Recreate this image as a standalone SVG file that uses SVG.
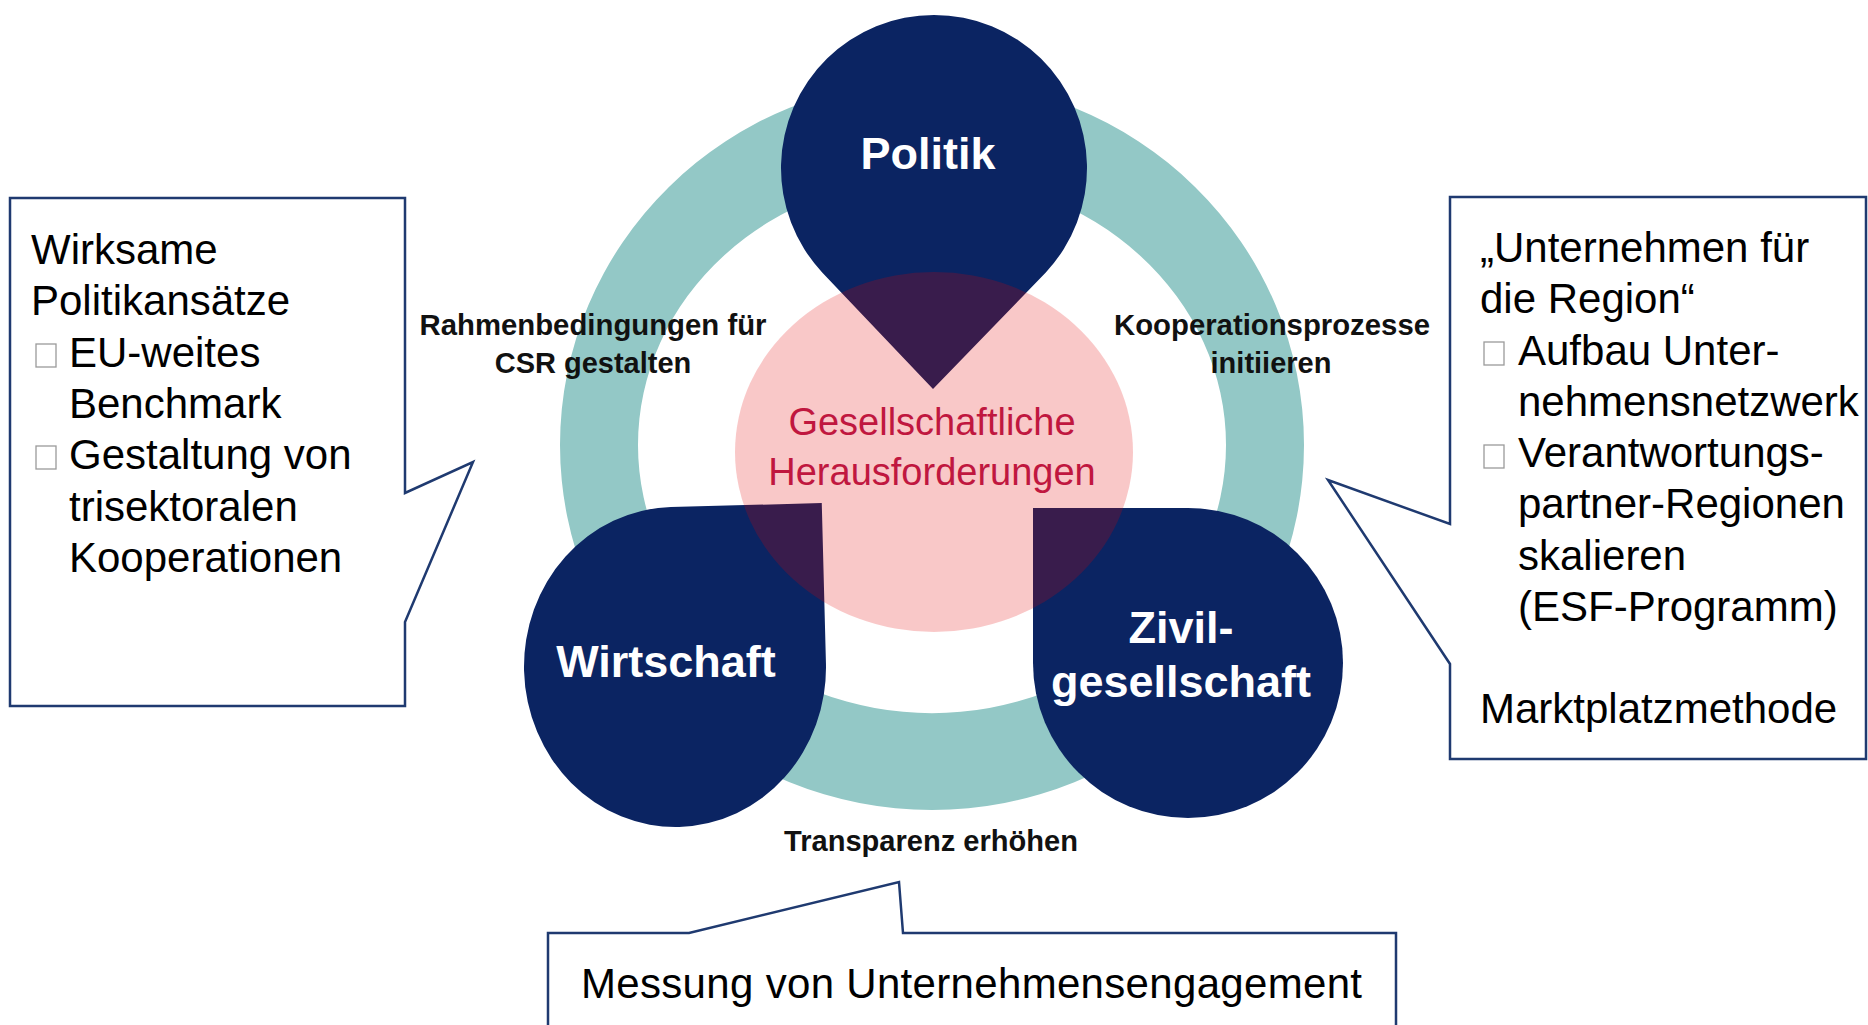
<svg xmlns="http://www.w3.org/2000/svg" width="1868" height="1025" viewBox="0 0 1868 1025">
  <style>
    .navy { fill: #0b2462; }
    .node-label { font-family: "Liberation Sans", Arial, sans-serif; font-weight: bold; fill: #ffffff; font-size: 45px; text-anchor: middle; }
    .edge-label { font-family: "Liberation Sans", Arial, sans-serif; font-weight: bold; fill: #111111; font-size: 29px; text-anchor: middle; }
    .callout { fill: #ffffff; stroke: #1f3a70; stroke-width: 2.5; stroke-linejoin: miter; }
    .ctext { font-family: "Liberation Sans", Arial, sans-serif; fill: #000000; font-size: 42px; }
    .bullet { fill: #ffffff; stroke: #9a9a9a; stroke-width: 1.3; }
    .center-text { font-family: "Liberation Sans", Arial, sans-serif; fill: #c0173f; font-size: 38px; text-anchor: middle; }
  </style>
  <rect width="1868" height="1025" fill="#ffffff"/>

  <g id="connectors">
    <path id="ring" fill="#93c8c6" fill-rule="evenodd" d="M560,445 A372,365 0 1,1 1304,445 A372,365 0 1,1 560,445 Z M638,445 A294,268 0 1,0 1226,445 A294,268 0 1,0 638,445 Z"/>
  </g>

  <g id="politik">
    <path class="navy" d="M822.2,272.4 A153,153 0 1,1 1045.8,272.4 L933,389 Z"/>
  </g>
  <g id="wirtschaft">
    <path class="navy" transform="rotate(-1.5 675 667)" d="M524,667 A151,160 0 0,1 675,507 L826,507 L826,667 A151,160 0 0,1 675,827 A151,160 0 0,1 524,667 Z"/>
  </g>
  <g id="zivilgesellschaft">
    <path class="navy" d="M1033,508 L1188,508 A155,155 0 0,1 1343,663 A155,155 0 0,1 1188,818 A155,155 0 0,1 1033,663 Z"/>
  </g>

  <g id="gesellschaftliche-herausforderungen">
    <ellipse cx="934" cy="452" rx="199" ry="180" fill="#e30000" fill-opacity="0.215"/>
    <text class="center-text" x="932" y="435">Gesellschaftliche</text>
    <text class="center-text" x="932" y="485">Herausforderungen</text>
  </g>

  <g id="node-labels">
    <text class="node-label" x="928" y="169">Politik</text>
    <text class="node-label" x="666" y="677">Wirtschaft</text>
    <text class="node-label" x="1181" y="643">Zivil-</text>
    <text class="node-label" x="1181" y="697">gesellschaft</text>
  </g>

  <g id="edge-labels">
    <text class="edge-label" x="593" y="335" textLength="347" lengthAdjust="spacingAndGlyphs">Rahmenbedingungen für</text>
    <text class="edge-label" x="593" y="373">CSR gestalten</text>
    <text class="edge-label" x="1272" y="335" textLength="316" lengthAdjust="spacingAndGlyphs">Kooperationsprozesse</text>
    <text class="edge-label" x="1271" y="373">initiieren</text>
    <text class="edge-label" x="931" y="851" textLength="294" lengthAdjust="spacingAndGlyphs">Transparenz erhöhen</text>
  </g>

  <g id="callout-politik">
    <path class="callout" d="M10,198 L405,198 L405,493 L473,462 L405,622 L405,706 L10,706 Z"/>
    <text class="ctext" x="31" y="264">Wirksame</text>
    <text class="ctext" x="31" y="315">Politikansätze</text>
    <rect class="bullet" x="36" y="344" width="20" height="23"/>
    <text class="ctext" x="69" y="367">EU-weites</text>
    <text class="ctext" x="69" y="418">Benchmark</text>
    <rect class="bullet" x="36" y="446" width="20" height="23"/>
    <text class="ctext" x="69" y="469">Gestaltung von</text>
    <text class="ctext" x="69" y="521">trisektoralen</text>
    <text class="ctext" x="69" y="572">Kooperationen</text>
  </g>

  <g id="callout-zivilgesellschaft">
    <path class="callout" d="M1450,197 L1866,197 L1866,759 L1450,759 L1450,664 L1328,480 L1450,524 Z"/>
    <text class="ctext" x="1480" y="262">„Unternehmen für</text>
    <text class="ctext" x="1480" y="313">die Region“</text>
    <rect class="bullet" x="1484" y="342" width="20" height="23"/>
    <text class="ctext" x="1518" y="365">Aufbau Unter-</text>
    <text class="ctext" x="1518" y="416">nehmensnetzwerk</text>
    <rect class="bullet" x="1484" y="445" width="20" height="23"/>
    <text class="ctext" x="1518" y="467">Verantwortungs-</text>
    <text class="ctext" x="1518" y="518">partner-Regionen</text>
    <text class="ctext" x="1518" y="570">skalieren</text>
    <text class="ctext" x="1518" y="621">(ESF-Programm)</text>
    <text class="ctext" x="1480" y="723">Marktplatzmethode</text>
  </g>

  <g id="callout-wirtschaft">
    <path class="callout" d="M548,1030 L548,933 L689,933 L899,882 L903,933 L1396,933 L1396,1030"/>
    <text class="ctext" x="581" y="998" textLength="781">Messung von Unternehmensengagement</text>
  </g>
</svg>
